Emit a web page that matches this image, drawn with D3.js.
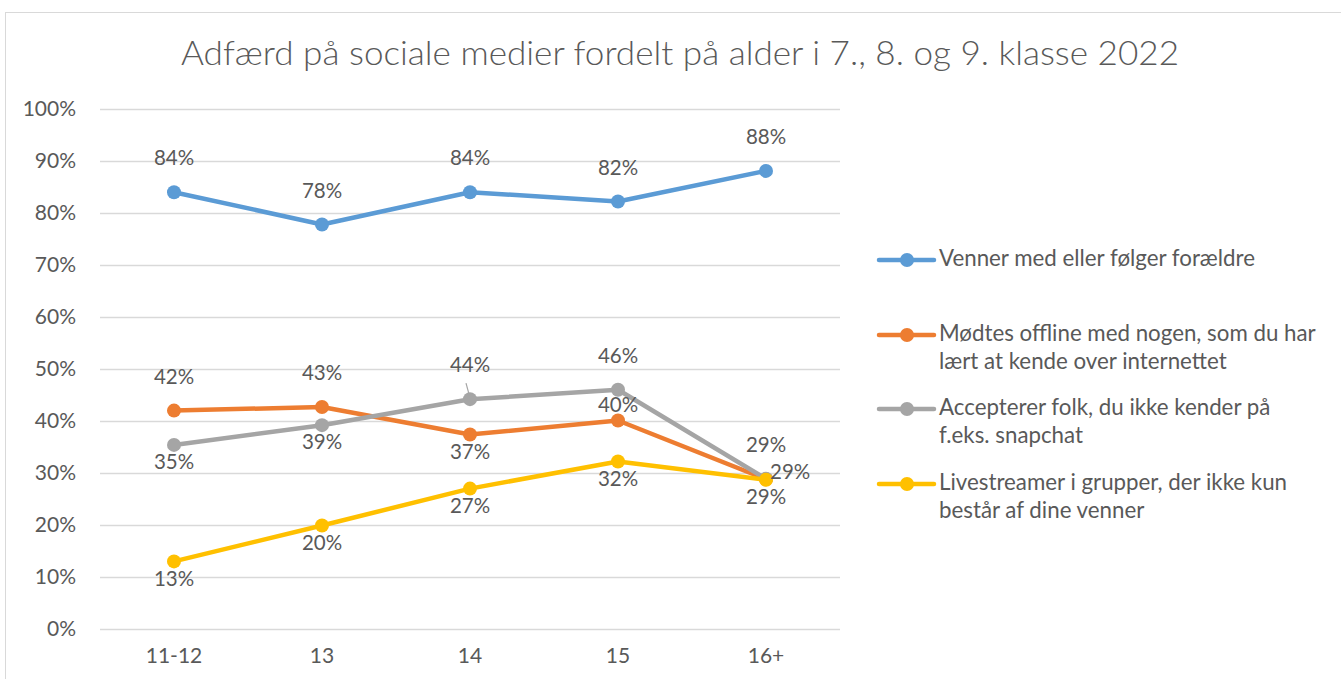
<!DOCTYPE html>
<html>
<head>
<meta charset="utf-8">
<script src="https://cdn.jsdelivr.net/npm/d3@7"></script>
<style>
  body { margin: 0; background: #fff; }
  svg { display: block; font-family: Lato, "Open Sans", sans-serif; }
</style>
</head>
<body>
<svg id="chart" width="1341" height="679"></svg>
<script>
const title = 'Adfærd på sociale medier fordelt på alder i 7., 8. og 9. klasse 2022';
const ages = ['11-12', '13', '14', '15', '16+'];
const yTicks = [0, 10, 20, 30, 40, 50, 60, 70, 80, 90, 100];

const seriesNames = [
  ['Venner med eller følger forældre'],
  ['Mødtes offline med nogen, som du har', 'lært at kende over internettet'],
  ['Accepterer folk, du ikke kender på', 'f.eks. snapchat'],
  ['Livestreamer i grupper, der ikke kun', 'består af dine venner'],
];
const seriesColors = ['#5b9bd5', '#ed7d31', '#a5a5a5', '#ffc000'];

const parents = [84, 77.8, 84, 82.2, 88.1];
const metOffline = [42, 42.7, 37.4, 40.1, 28.8];
const acceptStrangers = [35.4, 39.2, 44.2, 46, 28.9];
const livestream = [13, 19.9, 27, 32.2, 28.7];
const seriesValues = [parents, metOffline, acceptStrangers, livestream];

// where Excel put each data label: t = above, n = just above, b = below, r = right
const labelPlace = [
  ['t', 't', 't', 't', 't'],
  ['t', 't', 'b', 'n', 't'],
  ['b', 'b', 't', 't', 'r'],
  ['b', 'b', 'b', 'b', 'b'],
];

const svg = d3.select('#chart');
const textColor = '#595959';

// chart frame
svg.append('rect')
  .attr('x', 5.5).attr('y', 12.5)
  .attr('width', 1400).attr('height', 700)
  .attr('fill', 'none').attr('stroke', '#d9d9d9').attr('stroke-width', 1);

svg.append('text')
  .attr('x', 680).attr('y', 57)
  .attr('text-anchor', 'middle').attr('dominant-baseline', 'middle')
  .attr('font-size', 34).attr('font-weight', 300).attr('fill', textColor)
  .attr('textLength', 998).attr('lengthAdjust', 'spacingAndGlyphs')
  .text(title);

const x = d3.scaleBand().domain(ages).range([100, 840]);
const cx = (d) => x(d) + x.bandwidth() / 2;
const y = d3.scaleLinear().domain([0, 100]).range([629, 109]);

const yAxis = svg.append('g')
  .attr('transform', 'translate(100,0)')
  .call(d3.axisLeft(y).tickValues(yTicks).tickSize(-740).tickFormat((d) => d + '%'));
yAxis.select('.domain').remove();
yAxis.selectAll('.tick line').attr('stroke', '#d9d9d9').attr('stroke-width', 1.5);
yAxis.selectAll('.tick text')
  .attr('x', -24).attr('font-size', 21).attr('fill', textColor)
  .attr('font-family', 'Lato, sans-serif');

const xAxis = svg.append('g')
  .attr('transform', 'translate(0,629)')
  .call(d3.axisBottom(x).tickSize(0));
xAxis.select('.domain').remove();
xAxis.selectAll('.tick text')
  .attr('y', 19).attr('font-size', 21).attr('fill', textColor)
  .attr('font-family', 'Lato, sans-serif');

const line = d3.line().x((d, i) => cx(ages[i])).y((d) => y(d));

seriesValues.forEach((vals, s) => {
  const g = svg.append('g');
  g.append('path')
    .datum(vals)
    .attr('d', line)
    .attr('fill', 'none')
    .attr('stroke', seriesColors[s])
    .attr('stroke-width', 4.5)
    .attr('stroke-linejoin', 'round');
  g.selectAll('circle')
    .data(vals)
    .enter()
    .append('circle')
    .attr('cx', (d, i) => cx(ages[i]))
    .attr('cy', (d) => y(d))
    .attr('r', 7)
    .attr('fill', seriesColors[s]);
});

// data labels
seriesValues.forEach((vals, s) => {
  svg.append('g')
    .selectAll('text')
    .data(vals)
    .enter()
    .append('text')
    .attr('x', (d, i) => cx(ages[i]) + (labelPlace[s][i] === 'r' ? 4 : 0))
    .attr('y', (d, i) => {
      const p = labelPlace[s][i];
      if (p === 't') return y(d) - 32;
      if (p === 'n') return y(d) - 14;
      if (p === 'r') return y(d) - 5;
      return y(d) + 19;
    })
    .attr('text-anchor', (d, i) => (labelPlace[s][i] === 'r' ? 'start' : 'middle'))
    .attr('dominant-baseline', 'middle')
    .attr('font-size', 20.5)
    .attr('fill', textColor)
    .text((d) => Math.round(d) + '%');
});

// leader line for the moved 44% label
svg.append('line')
  .attr('x1', cx('14') - 4).attr('y1', y(acceptStrangers[2]) - 16)
  .attr('x2', cx('14') - 1).attr('y2', y(acceptStrangers[2]) - 5)
  .attr('stroke', '#a5a5a5').attr('stroke-width', 1.2);

// legend
const legendRows = [260, 335, 409, 484];
seriesNames.forEach((lines, s) => {
  const g = svg.append('g').attr('transform', 'translate(879,' + legendRows[s] + ')');
  g.append('line')
    .attr('x1', 0).attr('x2', 55)
    .attr('stroke', seriesColors[s]).attr('stroke-width', 4.5).attr('stroke-linecap', 'round');
  g.append('circle').attr('cx', 28).attr('r', 7).attr('fill', seriesColors[s]);
  lines.forEach((t, k) => {
    g.append('text')
      .attr('x', 60).attr('y', k * 28)
      .attr('dominant-baseline', 'middle')
      .attr('font-size', 22.3).attr('fill', textColor)
      .text(t);
  });
});
</script>
</body>
</html>
